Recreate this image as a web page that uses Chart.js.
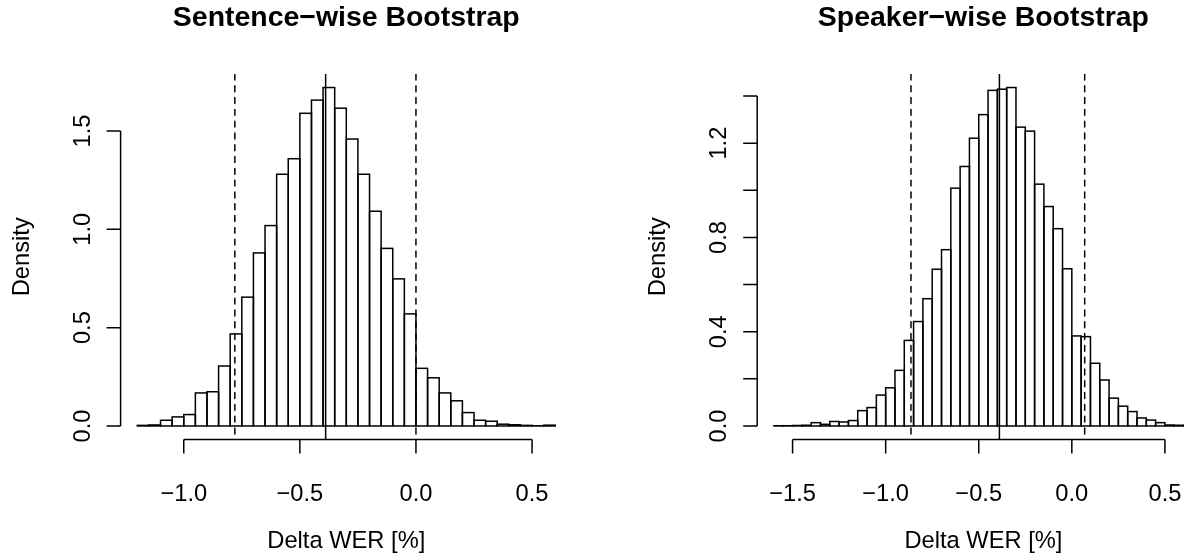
<!DOCTYPE html>
<html><head><meta charset="utf-8">
<script src="https://cdn.jsdelivr.net/npm/chart.js@4/dist/chart.umd.min.js"></script>
<style>
html,body{margin:0;padding:0;background:#fff;overflow:hidden}
#wrap{position:relative;width:1184px;height:556px;overflow:hidden;background:#fff}
canvas{position:absolute;top:0}
</style></head><body>
<div id="wrap">
<canvas id="c1" width="600" height="556" style="left:0px;width:600px;height:556px"></canvas>
<canvas id="c2" width="640" height="556" style="left:600px;width:640px;height:556px"></canvas>
</div>
<script>
// ---------- data ----------
const binWidth = 0.05;

const sentenceTitle = "Sentence\u2212wise Bootstrap";
const sentenceBinStart = -1.2;
const sentenceDensity = [0.003, 0.005, 0.029, 0.046, 0.058, 0.168, 0.174, 0.305, 0.468, 0.655,
  0.880, 1.019, 1.280, 1.359, 1.590, 1.657, 1.721, 1.616, 1.459, 1.280,
  1.092, 0.903, 0.748, 0.570, 0.293, 0.245, 0.168, 0.128, 0.068, 0.029,
  0.024, 0.009, 0.006, 0.003, 0.001, 0.004];
const sentenceMean = -0.389;
const sentenceCI = [-0.78, 0.0];
const sentenceXTicks = [-1.0, -0.5, 0.0, 0.5];
const sentenceXLabels = ["\u22121.0", "\u22120.5", "0.0", "0.5"];
const sentenceYTicks = [0.0, 0.5, 1.0, 1.5];
const sentenceYLabels = ["0.0", "0.5", "1.0", "1.5"];

const speakerTitle = "Speaker\u2212wise Bootstrap";
const speakerBinStart = -1.6;
const speakerDensity = [0.001, 0.001, 0.002, 0.003, 0.014, 0.007, 0.019, 0.017, 0.023, 0.065,
  0.078, 0.131, 0.162, 0.236, 0.363, 0.443, 0.540, 0.665, 0.748, 1.009,
  1.101, 1.221, 1.321, 1.424, 1.429, 1.436, 1.268, 1.251, 1.026, 0.931,
  0.837, 0.667, 0.382, 0.379, 0.266, 0.195, 0.118, 0.084, 0.061, 0.034,
  0.025, 0.014, 0.004, 0.003, 0.002];
const speakerMean = -0.389;
const speakerCI = [-0.864, 0.069];
const speakerXTicks = [-1.5, -1.0, -0.5, 0.0, 0.5];
const speakerXLabels = ["\u22121.5", "\u22121.0", "\u22120.5", "0.0", "0.5"];
const speakerYTicks = [0.0, 0.2, 0.4, 0.6, 0.8, 1.0, 1.2, 1.4];
const speakerYLabels = ["0.0", "", "0.4", "", "0.8", "", "1.2", ""];

const xAxisTitle = "Delta WER [%]";
const yAxisTitle = "Density";

// ---------- drawing ----------
const LW = 1.5;
const FONT = '"Liberation Sans", Arial, Helvetica, sans-serif';
const BASE = 23.7;

function rPlugin(o) {
  return {
    id: 'rStyle',
    afterDatasetsDraw(chart) {
      // R-style rectangle outlines, centred on the bar edges computed by Chart.js
      const ctx = chart.ctx, a = chart.chartArea;
      const meta = chart.getDatasetMeta(0);
      ctx.save();
      ctx.beginPath();
      ctx.rect(a.left, a.top, a.right - a.left, a.bottom - a.top);
      ctx.clip();
      ctx.strokeStyle = '#000';
      ctx.lineWidth = LW;
      meta.data.forEach(el => {
        const p = el.getProps(['x', 'y', 'base', 'width'], true);
        ctx.strokeRect(p.x - p.width / 2, p.y, p.width, p.base - p.y);
      });
      ctx.restore();
    },
    afterDraw(chart) {
      const ctx = chart.ctx, xs = chart.scales.x, ys = chart.scales.y, a = chart.chartArea;
      ctx.save();
      ctx.strokeStyle = '#000';
      ctx.fillStyle = '#000';
      ctx.lineWidth = LW;
      ctx.lineCap = 'round';
      // reference lines (clipped to plot region)
      ctx.save();
      ctx.beginPath();
      ctx.rect(a.left, a.top, a.right - a.left, a.bottom - a.top);
      ctx.clip();
      ctx.setLineDash([5.9, 5.9]);
      o.ci.forEach(v => {
        const x = xs.getPixelForValue(v);
        ctx.beginPath(); ctx.moveTo(x, a.top); ctx.lineTo(x, a.bottom); ctx.stroke();
      });
      ctx.setLineDash([]);
      const xm = xs.getPixelForValue(o.mean);
      ctx.beginPath(); ctx.moveTo(xm, a.top); ctx.lineTo(xm, a.bottom); ctx.stroke();
      ctx.restore();
      ctx.lineCap = 'butt';
      // x axis
      const xb = a.bottom;
      ctx.beginPath();
      ctx.moveTo(xs.getPixelForValue(o.xTicks[0]), xb);
      ctx.lineTo(xs.getPixelForValue(o.xTicks[o.xTicks.length - 1]), xb);
      o.xTicks.forEach(v => {
        const x = xs.getPixelForValue(v);
        ctx.moveTo(x, xb); ctx.lineTo(x, xb + 14);
      });
      ctx.stroke();
      ctx.font = BASE + 'px ' + FONT;
      ctx.textAlign = 'center';
      ctx.textBaseline = 'alphabetic';
      o.xTicks.forEach((v, i) => ctx.fillText(o.xLabels[i], xs.getPixelForValue(v), xb + 61));
      ctx.fillText(xAxisTitle, (a.left + a.right) / 2, xb + 108);
      // y axis
      const yl = a.left;
      ctx.beginPath();
      ctx.moveTo(yl, ys.getPixelForValue(o.yTicks[0]));
      ctx.lineTo(yl, ys.getPixelForValue(o.yTicks[o.yTicks.length - 1]));
      o.yTicks.forEach(v => {
        const y = ys.getPixelForValue(v);
        ctx.moveTo(yl, y); ctx.lineTo(yl - 14, y);
      });
      ctx.stroke();
      o.yTicks.forEach((v, i) => {
        if (!o.yLabels[i]) return;
        ctx.save();
        ctx.translate(yl - 31, ys.getPixelForValue(v));
        ctx.rotate(-Math.PI / 2);
        ctx.fillText(o.yLabels[i], 0, 0);
        ctx.restore();
      });
      ctx.save();
      ctx.translate(yl - 92, (a.top + a.bottom) / 2);
      ctx.rotate(-Math.PI / 2);
      ctx.fillText(yAxisTitle, 0, 0);
      ctx.restore();
      // title
      ctx.font = 'bold ' + (BASE * 1.2) + 'px ' + FONT;
      ctx.fillText(o.title, (a.left + a.right) / 2, 26);
      ctx.restore();
    }
  };
}

function makeHist(id, o) {
  const n = o.density.length;
  const pts = o.density.map((d, i) => ({ x: o.binStart + (i + 0.5) * binWidth, y: d }));
  const ymax = Math.max(...o.density);
  const xr = n * binWidth;
  return new Chart(document.getElementById(id), {
    type: 'bar',
    data: {
      datasets: [{
        data: pts,
        backgroundColor: '#ffffff',
        borderColor: '#000000',
        borderWidth: 0,
        barPercentage: 1,
        categoryPercentage: 1,
        grouped: false
      }]
    },
    options: {
      responsive: false,
      animation: false,
      events: [],
      layout: { padding: o.padding },
      plugins: { legend: { display: false }, tooltip: { enabled: false } },
      scales: {
        x: { type: 'linear', display: false, offset: false, min: o.binStart - 0.04 * xr, max: o.binStart + xr + 0.04 * xr },
        y: { type: 'linear', display: false, min: -0.04 * ymax, max: 1.04 * ymax }
      }
    },
    plugins: [rPlugin(o)]
  });
}

makeHist('c1', {
  title: sentenceTitle, binStart: sentenceBinStart, density: sentenceDensity,
  mean: sentenceMean, ci: sentenceCI,
  xTicks: sentenceXTicks, xLabels: sentenceXLabels, yTicks: sentenceYTicks, yLabels: sentenceYLabels,
  padding: { left: 120.6, right: 28, top: 74, bottom: 116.5 }
});
makeHist('c2', {
  title: speakerTitle, binStart: speakerBinStart, density: speakerDensity,
  mean: speakerMean, ci: speakerCI,
  xTicks: speakerXTicks, xLabels: speakerXLabels, yTicks: speakerYTicks, yLabels: speakerYLabels,
  padding: { left: 157.2, right: 30.4, top: 74, bottom: 116.5 }
});
</script>
</body></html>
